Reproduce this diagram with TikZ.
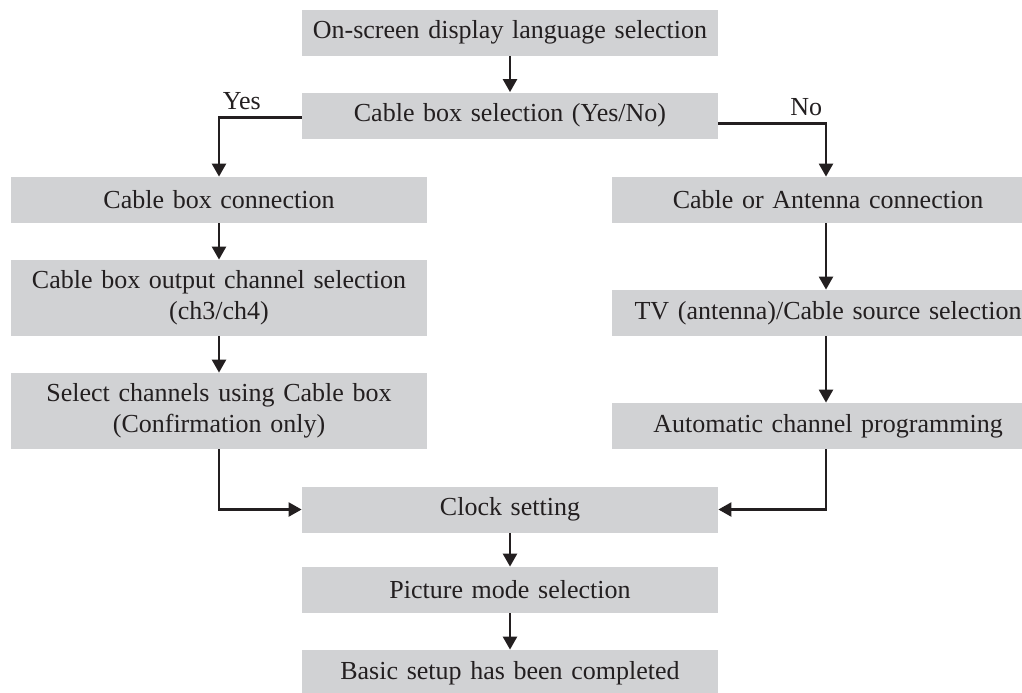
\documentclass[tikz,border=0pt]{standalone}
\usepackage{fontspec}
\setmainfont{Liberation Serif}
\usepackage{tikz}
\usetikzlibrary{arrows.meta,positioning}
\definecolor{grisBoite}{RGB}{209,210,212}
\definecolor{noirTexte}{RGB}{35,31,32}

\begin{document}
\begin{tikzpicture}[x=0.5pt,y=-0.5pt,font=\fontsize{13}{15.5}\selectfont,text=noirTexte,
  etape/.style={rectangle,fill=grisBoite,minimum width=208pt,minimum height=23pt,
                inner sep=0pt,align=center,text width=205pt},
  etapeDouble/.style={etape,minimum height=38pt},
  etapeDroite/.style={etape,minimum width=216pt,text width=214pt},
  lien/.style={-{Triangle[width=7pt,length=6.5pt]},line width=1.2pt,noirTexte}]

  \useasboundingbox (0,0) rectangle (1022,692);

  \node[etape] (langue) at (510,32.5) {On-screen display language selection};
  \node[etape] (choixBoitier) at (510,115.5) {Cable box selection (Yes/No)};

  % branche Yes
  \node[etape] (connBoitier) at (219,200) {Cable box connection};
  \node[etapeDouble] (sortieBoitier) at (219,298) {Cable box output channel selection\\(ch3/ch4)};
  \node[etapeDouble] (canauxBoitier) at (219,411) {Select channels using Cable box\\(Confirmation only)};

  % branche No
  \node[etapeDroite] (connAntenne) at (828,200) {Cable or Antenna connection};
  \node[etapeDroite] (source) at (828,313) {TV (antenna)/Cable source selection};
  \node[etapeDroite] (progAuto) at (828,426) {Automatic channel programming};

  \node[etape] (horloge) at (510,509.5) {Clock setting};
  \node[etape] (modeImage) at (510,590) {Picture mode selection};
  \node[etape] (fin) at (510,673) {Basic setup has been completed};

  \draw[lien] (langue)--(choixBoitier);
  \draw[lien] ([yshift=-1pt]choixBoitier.west) -| (connBoitier.north)
    node[pos=0.5,above right,xshift=-2pt] (oui) {Yes};
  \draw[lien] ([yshift=-4pt]choixBoitier.east) -| ([xshift=-1pt]connAntenne.north)
    node[pos=0.5,above left,xshift=2pt] (non) {No};

  \draw[lien] (connBoitier)--(sortieBoitier);
  \draw[lien] (sortieBoitier)--(canauxBoitier);
  \draw[lien] ([xshift=-1pt]connAntenne.south)--([xshift=-1pt]source.north);
  \draw[lien] ([xshift=-1pt]source.south)--([xshift=-1pt]progAuto.north);

  \draw[lien] (canauxBoitier.south) |- (horloge.west);
  \draw[lien] ([xshift=-1pt]progAuto.south) |- (horloge.east);
  \draw[lien] (horloge)--(modeImage);
  \draw[lien] (modeImage)--(fin);
\end{tikzpicture}
\end{document}
